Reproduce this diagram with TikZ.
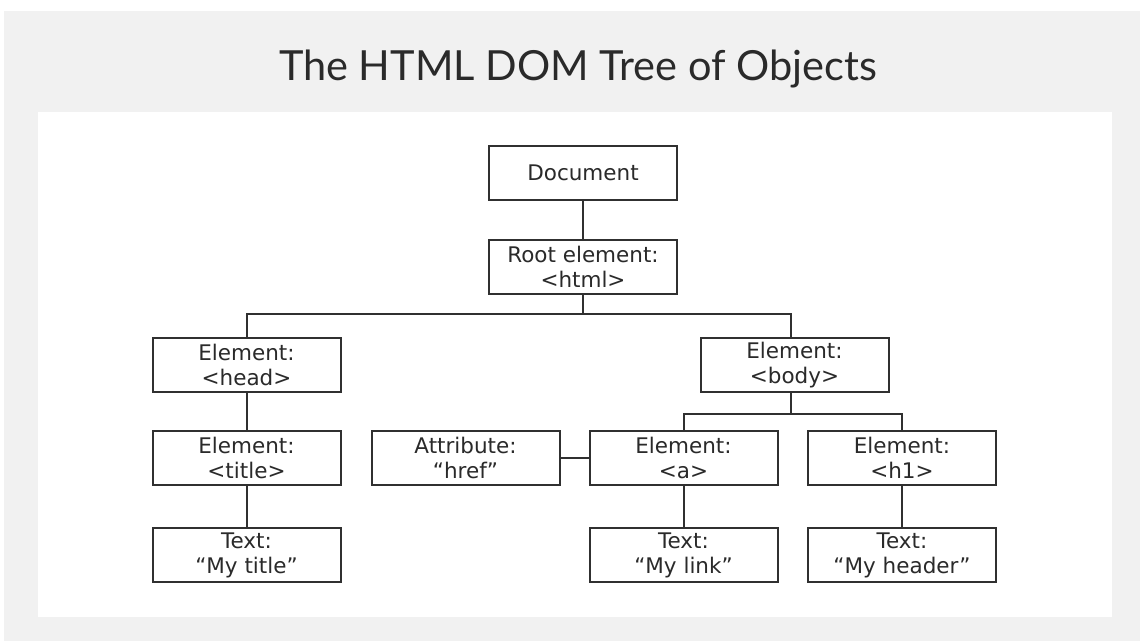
\documentclass[tikz,border=0pt]{standalone}
\usepackage{fontspec}
\setmainfont{DejaVu Sans}
\newfontfamily\titlefont{Lato}
\definecolor{pagegray}{HTML}{F1F1F1}
\definecolor{inkgray}{HTML}{2A2A2A}
\definecolor{linegray}{HTML}{303030}
\begin{document}
\begin{tikzpicture}[x=1pt,y=-1pt,
  dombox/.style={draw=linegray, line width=2pt, fill=white, minimum width=188pt, minimum height=54pt,
    inner sep=0pt, align=center, text=inkgray, font=\fontsize{21.5}{25}\selectfont},
  link/.style={draw=linegray, line width=2pt}]
\useasboundingbox (0,0) rectangle (1140,641);
\fill[white] (0,0) rectangle (1140,641);
\fill[pagegray] (4,11) rectangle (1140,641);
\fill[white] (38,112) rectangle (1112,617);
\node[text=inkgray, font=\titlefont\fontsize{41.5}{48}\selectfont, anchor=base] (title) at (578,80) {The HTML DOM Tree of Objects};

\node[dombox] (doc) at (583,173) {Document};
\node[dombox] (root) at (583,267) {Root element:\\\textless html\textgreater};
\node[dombox] (head) at (246.5,365) {Element:\\\textless head\textgreater};
\node[dombox] (body) at (794.5,365) {Element:\\\textless body\textgreater};
\node[dombox] (etitle) at (246.5,458) {Element:\\\textless title\textgreater};
\node[dombox] (attr) at (465.5,458) {Attribute:\\“href”};
\node[dombox] (ea) at (683.5,458) {Element:\\\textless a\textgreater};
\node[dombox] (eh1) at (902,458) {Element:\\\textless h1\textgreater};
\node[dombox] (ttitle) at (246.5,555) {Text:\\“My title”};
\node[dombox] (tlink) at (683.5,555) {Text:\\“My link”};
\node[dombox] (theader) at (902,555) {Text:\\“My header”};

\coordinate (j1) at (583,314);
\coordinate (j2) at (791,414);

\draw[link] (doc) -- (root);
\draw[link] (root) -- (j1);
\draw[link] (head.north) |- (j1) -| (body.north -| j2);
\draw[link] (head) -- (etitle);
\draw[link] (etitle) -- (ttitle);
\draw[link] (body.south -| j2) -- (j2);
\draw[link] (ea.north) |- (j2) -| (eh1.north);
\draw[link] (attr) -- (ea);
\draw[link] (ea) -- (tlink);
\draw[link] (eh1) -- (theader);
\end{tikzpicture}
\end{document}
